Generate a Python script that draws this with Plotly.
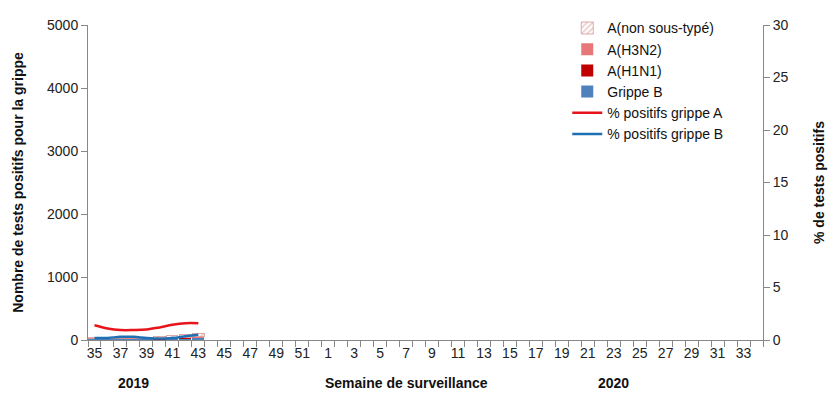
import plotly.graph_objects as go

weeks = [str(w) for w in list(range(35, 53)) + list(range(1, 35))]
tick_weeks = weeks[::2]

# counts for weeks 35..43 (2019)
grippe_b = [20, 22, 25, 25, 20, 15, 18, 25, 35]
a_h1n1 = [2, 1, 2, 1, 2, 2, 3, 8, 6]
a_h3n2 = [2, 2, 2, 3, 3, 4, 5, 6, 8]
a_non_sous_type = [12, 12, 12, 14, 16, 40, 38, 55, 60]
pct_a = [1.4, 1.1, 0.95, 0.95, 1.0, 1.2, 1.45, 1.6, 1.6]
pct_b = [0.2, 0.2, 0.3, 0.3, 0.2, 0.15, 0.2, 0.35, 0.5]

n = len(grippe_b)
x = list(range(n))
FONT = "Liberation Sans, Arial, sans-serif"

fig = go.Figure()
fig.add_bar(x=x, y=grippe_b, name="Grippe B", marker=dict(color="#4f81bd", line=dict(width=0)), legendrank=4)
fig.add_bar(x=x, y=a_h1n1, name="A(H1N1)", marker=dict(color="#c00000", line=dict(width=0)), legendrank=3)
fig.add_bar(x=x, y=a_h3n2, name="A(H3N2)", marker=dict(color="#e8777a", line=dict(width=0)), legendrank=2)
fig.add_bar(x=x, y=a_non_sous_type, name="A(non sous-typé)",
            marker=dict(color="white", line=dict(width=0.8, color="#d99694"),
                        pattern=dict(shape="/", fgcolor="#d99694", bgcolor="white", size=5, solidity=0.4)),
            legendrank=1)
fig.add_scatter(x=x, y=pct_a, name="% positifs grippe A", mode="lines", yaxis="y2",
                line=dict(color="#e8141b", width=2.5, shape="spline"), legendrank=5)
fig.add_scatter(x=x, y=pct_b, name="% positifs grippe B", mode="lines", yaxis="y2",
                line=dict(color="#1f6fb4", width=2.5, shape="spline"), legendrank=6)

fig.update_layout(
    width=840, height=405,
    margin=dict(l=88, r=77, t=20, b=65),
    paper_bgcolor="white", plot_bgcolor="white",
    barmode="stack", bargap=0.06,
    font=dict(family=FONT, size=14, color="#222"),
    showlegend=True,
    legend=dict(x=0.71, y=1.04, xanchor="left", yanchor="top", bgcolor="rgba(0,0,0,0)",
                traceorder="normal",
                font=dict(size=14, color="#111"), tracegroupgap=0, itemwidth=30),
    xaxis=dict(
        range=[-0.5, len(weeks) - 0.5],
        tickmode="array", tickvals=list(range(0, len(weeks), 2)), ticktext=tick_weeks,
        ticks="", showgrid=False, zeroline=False,
        showline=True, linecolor="#888", linewidth=1,
        tickfont=dict(size=14, color="#222"),
        minor=dict(tickmode="linear", tick0=0.5, dtick=1, ticks="outside", ticklen=6, tickcolor="#888", showgrid=False),
    ),
    yaxis=dict(
        range=[0, 5000], tickmode="linear", tick0=0, dtick=1000,
        ticks="outside", ticklen=6, tickcolor="#888",
        showline=True, linecolor="#888", linewidth=1,
        showgrid=False, zeroline=False,
        tickfont=dict(size=14, color="#222"),
        title=dict(text="<b>Nombre de tests positifs pour la grippe</b>", font=dict(size=14, color="#111"), standoff=20),
    ),
    yaxis2=dict(
        overlaying="y", side="right", range=[0, 30], tickmode="linear", tick0=0, dtick=5,
        ticks="outside", ticklen=6, tickcolor="#888",
        showline=True, linecolor="#888", linewidth=1,
        showgrid=False, zeroline=False,
        tickfont=dict(size=14, color="#222"),
        title=dict(text="<b>% de tests positifs</b>", font=dict(size=14, color="#111"), standoff=26),
    ),
)

fig.add_annotation(text="<b>2019</b>", x=3, y=-0.135, xref="x", yref="paper", showarrow=False,
                   font=dict(size=14, color="#111"), yanchor="middle")
fig.add_annotation(text="<b>Semaine de surveillance</b>", x=24, y=-0.135, xref="x", yref="paper", showarrow=False,
                   font=dict(size=14, color="#111"), yanchor="middle")
fig.add_annotation(text="<b>2020</b>", x=40, y=-0.135, xref="x", yref="paper", showarrow=False,
                   font=dict(size=14, color="#111"), yanchor="middle")

fig.write_html("out.html", config={"displayModeBar": False},
               post_script="document.body.style.margin='0';document.body.style.padding='0';")
